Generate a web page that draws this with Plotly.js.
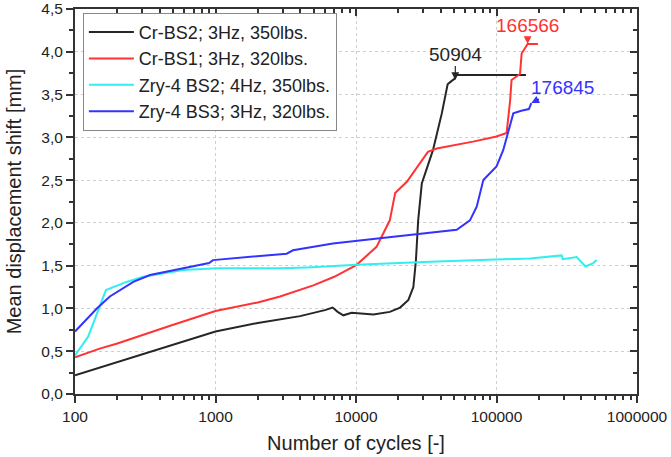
<!DOCTYPE html>
<html>
<head>
<meta charset="utf-8">
<script src="https://cdn.plot.ly/plotly-3.0.1.min.js"></script>
<style>
  html, body { margin: 0; padding: 0; background: #fff; }
  #chart { width: 671px; height: 457px; }
</style>
</head>
<body>
<div id="chart"></div>
<script>
// valeurs (cycles / déplacement moyen en mm)
var blackX = [100, 150, 200, 300, 500, 1000, 2000, 4000, 6000, 6820, 7400, 8130, 9310, 13300, 17400, 20600, 23600, 25600, 26700, 27700, 29400, 35300, 40800, 44900, 48000, 50000, 51500, 162000];
var blackY = [0.22, 0.31, 0.38, 0.47, 0.58, 0.73, 0.83, 0.91, 0.98, 1.01, 0.96, 0.92, 0.95, 0.93, 0.96, 1.01, 1.10, 1.25, 1.56, 2.03, 2.46, 2.85, 3.28, 3.62, 3.66, 3.68, 3.73, 3.73];

var redX = [100, 150, 200, 300, 500, 1000, 2000, 2880, 4970, 7000, 10100, 14000, 17400, 19000, 23000, 32500, 37500, 68000, 100000, 118000, 125000, 128000, 147000, 151000, 160000, 166566, 197000];
var redY = [0.43, 0.53, 0.59, 0.69, 0.81, 0.97, 1.07, 1.14, 1.27, 1.37, 1.51, 1.72, 2.03, 2.35, 2.48, 2.83, 2.87, 2.95, 3.01, 3.05, 3.43, 3.67, 3.74, 3.98, 4.04, 4.09, 4.09];

var cyanX = [100, 124, 166, 233, 306, 590, 1020, 2880, 4500, 10100, 33600, 76400, 173000, 291000, 296000, 372000, 415000, 430000, 489000, 516000];
var cyanY = [0.45, 0.67, 1.215, 1.31, 1.37, 1.45, 1.47, 1.47, 1.48, 1.51, 1.545, 1.565, 1.585, 1.62, 1.575, 1.60, 1.51, 1.49, 1.53, 1.565];

var blueX = [100, 143, 177, 260, 342, 590, 865, 900, 960, 1340, 3210, 3560, 6850, 14800, 19400, 31800, 52100, 64700, 72300, 80600, 100000, 111600, 121300, 131700, 150000, 170000, 174000, 176845];
var blueY = [0.73, 1.0, 1.14, 1.31, 1.39, 1.47, 1.53, 1.53, 1.565, 1.585, 1.64, 1.68, 1.76, 1.82, 1.84, 1.88, 1.92, 2.03, 2.19, 2.50, 2.66, 2.85, 3.08, 3.28, 3.31, 3.33, 3.37, 3.40];

var seriesNames = ['Cr-BS2; 3Hz, 350lbs.', 'Cr-BS1; 3Hz, 320lbs.', 'Zry-4 BS2; 4Hz, 350lbs.', 'Zry-4 BS3; 3Hz, 320lbs.'];
var seriesColors = ['#262626', '#ff3333', '#33eeee', '#3333ff'];

// fin d'essai annotée : cycles, déplacement
var endLabels = ['50904', '166566', '176845'];
var endX = [50904, 166566, 176845];
var endY = [3.67, 4.09, 3.40];

var police = 'Liberation Sans, Arial, sans-serif';
var trait = '#333';

function trace(x, y, i) {
  return {
    x: x, y: y, name: seriesNames[i], type: 'scatter', mode: 'lines',
    line: { color: seriesColors[i], width: 2 }
  };
}

var data = [
  trace(blackX, blackY, 0),
  trace(redX, redY, 1),
  trace(cyanX, cyanY, 2),
  trace(blueX, blueY, 3),
  // copie invisible pour faire exister les axes du haut et de droite
  { x: blackX, y: blackY, xaxis: 'x2', yaxis: 'y2', type: 'scatter', mode: 'lines',
    line: { width: 0, color: 'rgba(0,0,0,0)' }, showlegend: false, hoverinfo: 'skip' }
];

// annotations (axe log : x en log10)
var decal = [[0, -26], [0, -19], [31, -16]];
var annotations = [];
for (var i = 0; i < endLabels.length; i++) {
  var c = [seriesColors[0], seriesColors[1], seriesColors[3]][i];
  annotations.push({
    x: Math.log10(endX[i]), y: endY[i], xref: 'x', yref: 'y',
    text: endLabels[i], showarrow: true, arrowhead: 2, arrowsize: 1.3, arrowwidth: 1.2,
    arrowcolor: c, ax: decal[i][0], ay: decal[i][1], standoff: 0,
    font: { family: police, size: 19, color: c }
  });
}

function graduations(dehors) {
  var sens = dehors ? 'outside' : 'inside';
  return {
    ticks: sens, ticklen: 7, tickcolor: trait, tickwidth: 2,
    minor: { ticks: sens, ticklen: 4, tickcolor: trait, tickwidth: 2, showgrid: false }
  };
}

var gx = graduations(true), gy = graduations(true), gx2 = graduations(false), gy2 = graduations(false);
gx.minor.dtick = 'D1'; gx2.minor.dtick = 'D1';
gy.minor.dtick = 0.25; gy2.minor.dtick = 0.25;

var layout = {
  width: 671,
  height: 457,
  margin: { l: 75, r: 34, t: 9, b: 63 },
  paper_bgcolor: '#fff',
  plot_bgcolor: '#fff',
  separators: ', ',
  font: { family: police, size: 15.5, color: '#222' },
  showlegend: true,
  legend: {
    x: 0.014, y: 0.99, xanchor: 'left', yanchor: 'top',
    bgcolor: '#fff', bordercolor: '#888', borderwidth: 1,
    font: { family: police, size: 18, color: '#222' },
    itemwidth: 45
  },
  xaxis: Object.assign({
    type: 'log', range: [2, 6], dtick: 1, tickformat: 'd',
    showline: true, linecolor: trait, linewidth: 2, mirror: true,
    showgrid: true, gridcolor: '#cfcfcf', griddash: 'dot', gridwidth: 1,
    zeroline: false,
    title: { text: 'Number of cycles [-]', font: { family: police, size: 20, color: '#222' }, standoff: 12 }
  }, gx),
  yaxis: Object.assign({
    range: [0, 4.5], dtick: 0.5, tickformat: '.1f',
    showline: true, linecolor: trait, linewidth: 2, mirror: true,
    showgrid: true, gridcolor: '#cfcfcf', griddash: 'dot', gridwidth: 1,
    zeroline: false,
    title: { text: 'Mean displacement shift [mm]', font: { family: police, size: 20, color: '#222' }, standoff: 14 }
  }, gy),
  // graduations intérieures en haut et à droite
  xaxis2: Object.assign({
    type: 'log', range: [2, 6], dtick: 1, overlaying: 'x', side: 'top', anchor: 'y2',
    showticklabels: false, showgrid: false, zeroline: false, showline: false
  }, gx2),
  yaxis2: Object.assign({
    range: [0, 4.5], dtick: 0.5, overlaying: 'y', side: 'right', anchor: 'x2',
    showticklabels: false, showgrid: false, zeroline: false, showline: false
  }, gy2),
  annotations: annotations
};

Plotly.newPlot('chart', data, layout, { displayModeBar: false, staticPlot: true });
</script>
</body>
</html>
